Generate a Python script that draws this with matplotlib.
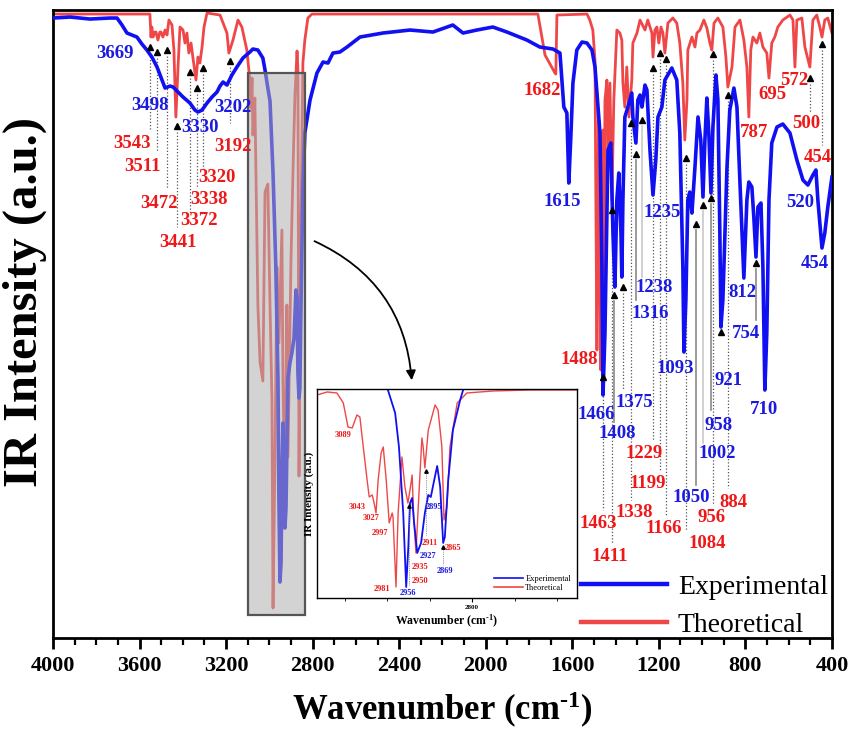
import matplotlib.pyplot as plt
from matplotlib.patches import Rectangle
from matplotlib.lines import Line2D
from matplotlib.ticker import MultipleLocator

plt.rcParams['font.family'] = ['Liberation Serif', 'DejaVu Serif']
plt.rcParams['mathtext.fontset'] = 'custom'
plt.rcParams['mathtext.rm'] = 'Liberation Serif:bold'
plt.rcParams['mathtext.bf'] = 'Liberation Serif:bold'
plt.rcParams['mathtext.it'] = 'Liberation Serif:bold:italic'

# experimental spectrum: (wavenumber cm-1, intensity a.u.)
exp_spec = [
    (4000, 620), (3921, 621), (3829, 619), (3737, 620), (3704, 620), (3681, 613), (3658, 605),
    (3635, 603), (3612, 601), (3589, 594), (3566, 588), (3543, 581), (3519, 571), (3496, 558),
    (3482, 550), (3459, 552), (3445, 551), (3422, 546), (3399, 541), (3367, 535), (3344, 528),
    (3330, 526), (3311, 528), (3288, 535), (3265, 541), (3242, 546), (3228, 552), (3214, 556),
    (3196, 553), (3173, 563), (3150, 571), (3122, 580), (3090, 586), (3076, 589), (3053, 588),
    (3030, 580), (3020, 568), (3007, 550), (2997, 537), (2983, 465), (2970, 371), (2960, 257),
    (2956, 143), (2951, 56), (2946, 75), (2942, 160), (2937, 215), (2933, 180), (2928, 110),
    (2923, 130), (2919, 190), (2914, 260), (2905, 275), (2896, 285), (2886, 300), (2877, 348),
    (2872, 340), (2868, 265), (2863, 240), (2859, 250), (2854, 330), (2849, 400), (2845, 450),
    (2836, 505), (2812, 538), (2780, 565), (2752, 576), (2729, 575), (2706, 585), (2674, 586),
    (2641, 591), (2581, 601), (2475, 605), (2350, 608), (2244, 606), (2179, 611), (2152, 613),
    (2105, 605), (2041, 608), (1967, 611), (1902, 606), (1810, 598), (1750, 591), (1689, 589),
    (1657, 585), (1639, 531), (1625, 525), (1616, 455), (1606, 505), (1597, 555), (1579, 588),
    (1555, 596), (1532, 595), (1519, 591), (1509, 588), (1495, 571), (1472, 505), (1463, 371),
    (1458, 243), (1449, 305), (1435, 488), (1422, 495), (1412, 405), (1403, 351), (1394, 438),
    (1385, 465), (1375, 405), (1371, 361), (1366, 438), (1357, 521), (1343, 531), (1325, 545),
    (1320, 521), (1306, 495), (1297, 538), (1287, 543), (1278, 531), (1264, 553), (1255, 548),
    (1241, 488), (1227, 443), (1214, 478), (1204, 521), (1186, 531), (1172, 558), (1140, 570),
    (1117, 558), (1103, 505), (1089, 371), (1084, 286), (1075, 338), (1066, 438), (1057, 446),
    (1047, 425), (1033, 471), (1019, 521), (1006, 498), (996, 441), (987, 498), (978, 540),
    (969, 505), (959, 445), (950, 511), (936, 563), (927, 538), (918, 405), (913, 311),
    (904, 338), (885, 471), (872, 528), (853, 550), (839, 531), (825, 455), (812, 388),
    (807, 360), (793, 438), (784, 456), (770, 451), (761, 421), (751, 381), (742, 431),
    (728, 435), (719, 371), (710, 248), (701, 305), (691, 438), (678, 495), (654, 511),
    (627, 514), (594, 505), (562, 478), (534, 458), (511, 453), (488, 463), (474, 468),
    (465, 438), (446, 390), (433, 405), (419, 431), (400, 461),
]

# theoretical spectrum
theo_spec = [
    (4000, 624), (3552, 624), (3547, 601), (3543, 611), (3538, 601), (3529, 606), (3524, 606),
    (3515, 598), (3506, 606), (3501, 606), (3492, 601), (3482, 608), (3473, 603), (3464, 618),
    (3450, 613), (3441, 588), (3432, 521), (3422, 571), (3413, 611), (3399, 608), (3390, 595),
    (3381, 605), (3372, 585), (3362, 595), (3353, 580), (3339, 558), (3330, 581), (3321, 575),
    (3311, 591), (3302, 611), (3288, 625), (3228, 623), (3196, 605), (3187, 585), (3168, 598),
    (3145, 618), (3127, 611), (3104, 588), (3090, 558), (3085, 530), (3080, 560), (3076, 503),
    (3067, 540), (3053, 333), (3043, 276), (3030, 257), (3020, 446), (3007, 454), (2997, 333),
    (2988, 238), (2983, 30), (2974, 181), (2965, 371), (2956, 295), (2942, 408), (2937, 257),
    (2928, 143), (2919, 333), (2914, 181), (2900, 378), (2891, 465), (2882, 541), (2872, 587),
    (2868, 568), (2863, 162), (2854, 408), (2845, 575), (2836, 598), (2822, 620), (2803, 624),
    (1759, 624), (1726, 583), (1680, 565), (1676, 564), (1671, 623), (1532, 624), (1519, 618),
    (1505, 608), (1495, 578), (1491, 438), (1486, 288), (1482, 438), (1477, 518), (1472, 338),
    (1468, 268), (1463, 388), (1458, 508), (1454, 308), (1449, 538), (1440, 558), (1435, 471),
    (1426, 555), (1417, 438), (1408, 538), (1398, 588), (1394, 608), (1380, 605), (1371, 598),
    (1366, 555), (1357, 531), (1348, 571), (1338, 521), (1325, 558), (1320, 595), (1301, 605),
    (1287, 618), (1264, 608), (1251, 618), (1232, 605), (1227, 581), (1218, 608), (1209, 611),
    (1200, 595), (1190, 611), (1181, 605), (1172, 585), (1158, 615), (1135, 620), (1117, 615),
    (1103, 595), (1089, 555), (1080, 498), (1070, 538), (1066, 588), (1047, 601), (1033, 591),
    (1024, 605), (1010, 608), (992, 618), (978, 610), (964, 595), (955, 588), (945, 615),
    (927, 620), (904, 611), (890, 581), (881, 551), (862, 571), (848, 611), (825, 618),
    (807, 598), (793, 571), (784, 521), (775, 588), (765, 601), (747, 595), (733, 605),
    (719, 591), (701, 585), (691, 560), (678, 595), (664, 601), (650, 611), (627, 618),
    (594, 623), (580, 618), (571, 571), (562, 618), (539, 620), (525, 591), (502, 571),
    (488, 618), (470, 623), (456, 611), (446, 601), (433, 618), (419, 620), (400, 605),
]

# inset (C-H stretching region)
inset_exp = [
    (3005, 230), (2998, 208), (2981, 185), (2972, 151), (2962, 85), (2955, 11), (2950, 51),
    (2946, 95), (2941, 100), (2937, 78), (2929, 45), (2920, 55), (2911, 85), (2903, 103),
    (2897, 101), (2889, 118), (2882, 132), (2875, 111), (2868, 55), (2864, 61), (2856, 118),
    (2845, 168), (2828, 198), (2821, 208), (2815, 230),
]
inset_theo = [
    (3165, 203), (3141, 206), (3118, 205), (3103, 195), (3092, 171), (3082, 170), (3071, 183),
    (3064, 181), (3056, 151), (3047, 118), (3042, 101), (3035, 103), (3031, 96), (3026, 85),
    (3021, 118), (3014, 145), (3009, 151), (3002, 118), (2995, 75), (2988, 85), (2986, 81),
    (2979, 11), (2974, 85), (2965, 141), (2958, 111), (2951, 95), (2946, 108), (2941, 123),
    (2937, 78), (2932, 45), (2927, 88), (2918, 160), (2915, 151), (2911, 130), (2903, 168),
    (2887, 193), (2880, 188), (2871, 151), (2866, 78), (2859, 91), (2852, 151), (2835, 195),
    (2812, 205), (2751, 207), (2663, 208), (2553, 208),
]

# peak labels: text, series, x, y
peak_labels = [
    ("3669", 'e', 3713, 585), ("3498", 'e', 3552, 533), ("3330", 'e', 3321, 511),
    ("3202", 'e', 3168, 531), ("3543", 't', 3635, 495), ("3511", 't', 3584, 472),
    ("3472", 't', 3510, 435), ("3441", 't', 3422, 396), ("3372", 't', 3325, 418),
    ("3338", 't', 3279, 439), ("3320", 't', 3242, 461), ("3192", 't', 3168, 492),
    ("1682", 't', 1740, 548), ("1615", 'e', 1648, 437),
    ("1466", 'e', 1491, 224), ("1408", 'e', 1394, 205), ("1375", 'e', 1311, 236),
    ("1316", 'e', 1241, 325), ("1238", 'e', 1223, 351), ("1235", 'e', 1186, 426),
    ("1093", 'e', 1126, 270), ("1050", 'e', 1052, 141), ("1002", 'e', 932, 185),
    ("958", 'e', 922, 213), ("921", 'e', 876, 258), ("812", 'e', 816, 346),
    ("754", 'e', 798, 305), ("710", 'e', 714, 229), ("520", 'e', 548, 436),
    ("454", 'e', 479, 375),
    ("1488", 't', 1569, 279), ("1463", 't', 1482, 115), ("1411", 't', 1426, 82),
    ("1338", 't', 1315, 126), ("1229", 't', 1269, 185), ("1199", 't', 1250, 155),
    ("1166", 't', 1177, 110), ("1084", 't', 978, 95), ("956", 't', 955, 121),
    ("884", 't', 853, 136), ("787", 't', 761, 506), ("695", 't', 673, 544),
    ("572", 't', 576, 558), ("500", 't', 520, 515), ("454", 't', 465, 481),
]

# pointer arrows: x, tip y, end of guide line, line style
pointers = [
    (3552, 591, 508, 'dot'), (3519, 586, 486, 'dot'), (3473, 588, 450, 'dot'),
    (3427, 512, 411, 'dot'), (3367, 566, 425, 'dot'), (3335, 550, 451, 'dot'),
    (3307, 570, 468, 'dot'), (3182, 577, 515, 'dot'),
    (1458, 261, 128, 'dot'), (1417, 428, 95, 'dot'), (1408, 343, 216, 'solid'),
    (1366, 351, 248, 'dot'), (1329, 515, 138, 'dot'), (1306, 484, 338, 'solid'),
    (1278, 518, 361, 'light'), (1227, 570, 198, 'dot'), (1195, 585, 168, 'dot'),
    (1167, 579, 123, 'dot'), (1075, 480, 108, 'dot'), (1029, 414, 153, 'solid'),
    (996, 433, 195, 'light'), (959, 440, 228, 'solid'), (950, 584, 133, 'dot'),
    (913, 306, None, None), (881, 543, 150, 'dot'), (751, 375, 318, 'solid'),
    (502, 560, 526, 'dot'), (446, 594, 493, 'dot'),
]

inset_labels = [
    ("3089", 't', 3104, 163), ("3043", 't', 3071, 91), ("3027", 't', 3038, 80),
    ("2997", 't', 3016, 65), ("2981", 't', 3012, 9), ("2956", 'e', 2951, 5),
    ("2950", 't', 2922, 17), ("2935", 't', 2922, 31), ("2927", 'e', 2904, 42),
    ("2911", 't', 2899, 55), ("2895", 'e', 2889, 91), ("2869", 'e', 2864, 27),
    ("2865", 't', 2845, 50),
]
inset_pointers = [(2948, 92, 13), (2908, 127, 63), (2868, 51, 33)]

line_col = {'e': '#1010F2', 't': '#EF4747'}
text_col = {'e': '#1A1AE0', 't': '#EE1818'}
guide = {'dot': dict(color='#555555', ls=(0, (1, 1.6)), lw=0.9),
         'solid': dict(color='#8a8a8a', ls='-', lw=1.2),
         'light': dict(color='#c8c8c8', ls='-', lw=1.2)}

fig = plt.figure(figsize=(8.53, 7.32), dpi=100)
ax = fig.add_axes([0.0621, 0.1284, 0.9132, 0.8579])

ax.plot([p[0] for p in theo_spec], [p[1] for p in theo_spec], color=line_col['t'], lw=2.0, zorder=2)
ax.plot([p[0] for p in exp_spec], [p[1] for p in exp_spec], color=line_col['e'], lw=2.6, zorder=3)

for x, tip, end, style in pointers:
    if end is not None:
        ax.plot([x, x], [tip - 6, end], zorder=1, **guide[style])
    ax.plot(x, tip, marker='^', color='black', ms=4.5, zorder=5)

for txt, s, x, y in peak_labels:
    ax.text(x, y, txt, color=text_col[s], fontsize=13.5, fontweight='bold',
            ha='center', va='center', zorder=6)

# highlighted C-H region
ax.add_patch(Rectangle((2835, 23), 265, 542, facecolor='#b0b0b0', alpha=0.55,
                       edgecolor='none', zorder=4))
ax.add_patch(Rectangle((2835, 23), 265, 542, fill=False, edgecolor='#555555',
                       lw=1.6, zorder=4))
ax.annotate('', xy=(2341, 255), xytext=(2803, 398),
            arrowprops=dict(arrowstyle='-|>', color='black', lw=1.3,
                            connectionstyle='arc3,rad=-0.3', mutation_scale=14),
            zorder=5)

ax.set_xlim(4000, 400)
ax.set_ylim(0, 628)
ax.xaxis.set_major_locator(MultipleLocator(400))
ax.xaxis.set_minor_locator(MultipleLocator(100))
ax.set_yticks([])
ax.tick_params(axis='x', which='major', direction='out', length=8, width=2, labelsize=16, pad=5)
ax.tick_params(axis='x', which='minor', direction='out', length=5, width=1.6)
for lab in ax.get_xticklabels():
    lab.set_fontweight('bold')
for sp in ax.spines.values():
    sp.set_linewidth(2)
ax.set_xlabel(r'Wavenumber (cm$^{\text{-1}}$)', fontsize=25, fontweight='bold', labelpad=10)
ax.set_ylabel('IR Intensity (a.u.)', fontsize=35, fontweight='bold')
ax.yaxis.set_label_coords(-0.008, 0.535)

handles = [Line2D([], [], color=line_col['e'], lw=3.2), Line2D([], [], color=line_col['t'], lw=3.2)]
ax.legend(handles, ['Experimental', 'Theoretical'], loc='lower right', frameon=False,
          fontsize=20, handlelength=3.1, handletextpad=0.4, labelspacing=0.45,
          bbox_to_anchor=(1.027, -0.04))

# inset
ins = fig.add_axes([0.3716, 0.1831, 0.3048, 0.2855])
ins.set_zorder(10)
ins.plot([p[0] for p in inset_theo], [p[1] for p in inset_theo], color=line_col['t'], lw=1.0)
ins.plot([p[0] for p in inset_exp], [p[1] for p in inset_exp], color=line_col['e'], lw=1.3)
for x, tip, end in inset_pointers:
    ins.plot([x, x], [tip - 3, end], color='#777777', ls=(0, (1, 1.2)), lw=0.6)
    ins.plot(x, tip, marker='^', color='black', ms=2.5)
for txt, s, x, y in inset_labels:
    ins.text(x, y, txt, color=text_col[s], fontsize=6, fontweight='bold', ha='center', va='center')
ins.set_xlim(3165, 2553)
ins.set_ylim(0, 209)
ins.xaxis.set_major_locator(MultipleLocator(400))
ins.xaxis.set_minor_locator(MultipleLocator(100))
ins.set_yticks([])
ins.tick_params(axis='x', which='major', length=3, width=0.8, labelsize=5, pad=2)
ins.tick_params(axis='x', which='minor', length=2, width=0.6)
for lab in ins.get_xticklabels():
    lab.set_fontweight('bold')
for sp in ins.spines.values():
    sp.set_linewidth(1.0)
ins.set_xlabel(r'Wavenumber (cm$^{\text{-1}}$)', fontsize=8.5, fontweight='bold', labelpad=2)
ins.set_ylabel('IR Intensity (a.u.)', fontsize=8, fontweight='bold', labelpad=2)
ins.legend([Line2D([], [], color=line_col['e'], lw=1.2), Line2D([], [], color=line_col['t'], lw=1.2)],
           ['Experimental', 'Theoretical'], loc='lower right', frameon=False, fontsize=6,
           handlelength=3.5, handletextpad=0.3, labelspacing=0.1, borderaxespad=0.3)

fig.savefig('out.png', dpi=100)
